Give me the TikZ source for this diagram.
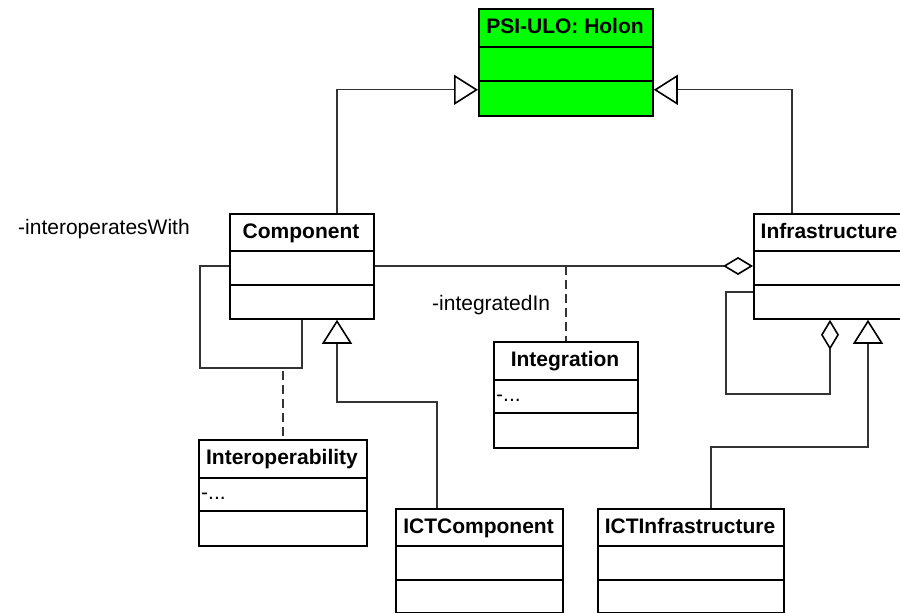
\documentclass[tikz,border=0pt]{standalone}
\usepackage{fontspec}
\setmainfont{Liberation Sans}
\usetikzlibrary{arrows.meta}
\definecolor{holongreen}{HTML}{00FF00}
\definecolor{linegray}{HTML}{333333}
\tikzset{
  clsfill/.style={fill=white},
  clsbox/.style={draw=black, line width=1.8pt, clsfill, inner sep=0pt, anchor=north west},
  divline/.style={draw=black, line width=1.8pt},
  ctitle/.style={font=\fontsize{21}{25}\selectfont\bfseries, anchor=base, inner sep=0pt},
  cattr/.style={font=\fontsize{21}{25}\selectfont, anchor=base west, inner sep=0pt},
  conn/.style={draw=linegray, line width=1.3pt},
  dashconn/.style={draw=linegray, line width=1.3pt, dash pattern=on 9pt off 5pt},
  genTip/.tip={Triangle[fill=white, color=black, length=24pt, width=30pt, line width=1.6pt]},
  aggTip/.tip={Diamond[fill=white, color=black, length=30pt, width=18pt, line width=1.6pt]},
}
% #1 name, #2 left, #3 top, #4 right, #5 bottom, #6 div1, #7 div2, #8 title, #9 attribute
\newcommand\umlclass[9]{%
  \node[clsbox, minimum width={(#4-#2)*1pt}, minimum height={(#5-#3)*1pt}] (#1) at (#2,#3) {};
  \draw[divline] (#2,#6) -- (#4,#6);
  \draw[divline] (#2,#7) -- (#4,#7);
  \node[ctitle] (#1-title) at ({(#2+#4)/2},#3+25) {#8};
  \node[cattr] (#1-attr) at (#2+3,#6+21) {#9};
}
\begin{document}
\begin{tikzpicture}[x=1pt, y=-1pt]
  \useasboundingbox (0,0) rectangle (900,613);
  \clip (0,0) rectangle (900,613);
  \fill[white] (0,0) rectangle (900,613);

  \begin{scope}[clsfill/.style={fill=holongreen}]
    \umlclass{holon}{478}{8}{652}{115}{47}{81}{PSI-ULO: Holon}{}
  \end{scope}
  \umlclass{comp}{229}{213}{373}{318}{251}{285}{Component}{}
  \umlclass{infra}{753}{213}{905}{318}{251}{285}{Infrastructure}{}
  \umlclass{integ}{493}{341}{637}{447}{380}{413}{Integration}{-...}
  \umlclass{interop}{198}{439}{366}{545}{478}{511}{Interoperability}{-...}
  \umlclass{ictc}{395}{508}{562}{612}{546}{580}{ICTComponent}{}
  \umlclass{icti}{597}{508}{783}{612}{546}{580}{ICTInfrastructure}{}

  % helper points
  \coordinate (cl1) at (200,368);
  \coordinate (g1) at (337,402);
  \coordinate (g2) at (868,447);
  \coordinate (il) at (726,394);
  \coordinate (assoc) at (564,266);

  % generalizations to Holon
  \draw[conn, -genTip] ([xshift=108pt]comp.north west) |- ([yshift=27pt]holon.south west);
  \draw[conn, -genTip] ([xshift=39pt]infra.north west) |- ([yshift=27pt]holon.south east);

  % association Component - Infrastructure (aggregation)
  \draw[conn, -aggTip] ([yshift=-53pt]comp.north east) -- ([yshift=-53pt]infra.north west);
  \draw[dashconn] (integ.north |- assoc) -- (integ.north);

  % Component self association
  \draw[conn] ([yshift=-53pt]comp.north west) -| (cl1) -| (comp.south);
  \draw[dashconn] ([yshift=-3pt]interop.north |- cl1) -- (interop.north);

  % ICTComponent generalization
  \draw[conn, -genTip] ([xshift=42pt]ictc.north west) |- (g1) -- ([xshift=108pt]comp.south west);

  % ICTInfrastructure generalization
  \draw[conn, -genTip] ([xshift=114pt]icti.north west) |- (g2) -- ([xshift=115pt]infra.south west);

  % Infrastructure self aggregation
  \draw[conn, -aggTip] ([yshift=-79pt]infra.north west) -| (il) -| ([xshift=77pt]infra.south west);

  % role labels
  \node[cattr] (lblinterop) at (18,234) {-interoperatesWith};
  \node[cattr] (lblinteg) at (432,310) {-integratedIn};
\end{tikzpicture}
\end{document}
